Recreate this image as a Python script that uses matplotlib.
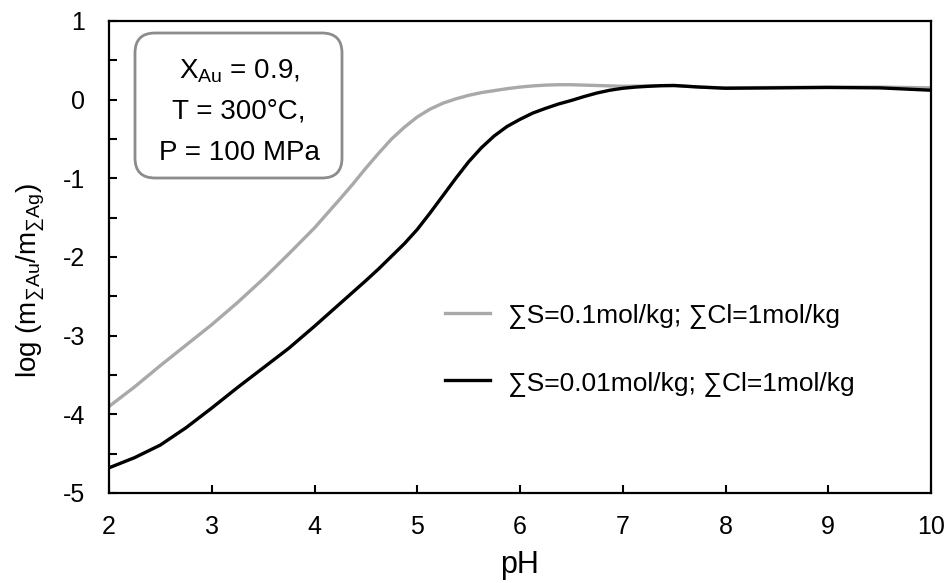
import matplotlib
matplotlib.use("Agg")
import matplotlib.pyplot as plt
from matplotlib.patches import FancyBboxPatch

plt.rcParams['font.family'] = ['Liberation Sans', 'DejaVu Sans']
plt.rcParams['mathtext.fontset'] = 'custom'
plt.rcParams['mathtext.rm'] = 'Liberation Sans'
plt.rcParams['mathtext.it'] = 'Liberation Sans'
plt.rcParams['axes.unicode_minus'] = False

# data
ph_01 = [2.0, 2.25, 2.5, 2.75, 3.0, 3.25, 3.5, 3.75, 4.0, 4.25, 4.375, 4.5, 4.625,
         4.75, 4.875, 5.0, 5.125, 5.25, 5.375, 5.5, 5.625, 5.75, 5.875, 6.0, 6.125,
         6.25, 6.375, 6.5, 6.625, 6.75, 6.875, 7.0, 7.25, 7.5, 7.75, 8.0, 8.5, 9.0,
         9.5, 10.0]
s01 = [-3.90, -3.65, -3.38, -3.12, -2.86, -2.58, -2.28, -1.96, -1.63, -1.26, -1.07,
       -0.87, -0.68, -0.50, -0.35, -0.22, -0.12, -0.045, 0.01, 0.055, 0.09, 0.115, 0.14,
       0.16, 0.175, 0.185, 0.19, 0.19, 0.185, 0.18, 0.175, 0.17, 0.175, 0.18, 0.16,
       0.15, 0.155, 0.16, 0.16, 0.15]
ph_001 = [2.0, 2.25, 2.5, 2.75, 3.0, 3.25, 3.5, 3.75, 4.0, 4.25, 4.5, 4.625, 4.75,
          4.875, 5.0, 5.125, 5.25, 5.375, 5.5, 5.625, 5.75, 5.875, 6.0, 6.125, 6.25,
          6.375, 6.5, 6.625, 6.75, 6.875, 7.0, 7.125, 7.25, 7.375, 7.5, 7.75, 8.0,
          8.5, 9.0, 9.5, 10.0]
s001 = [-4.68, -4.55, -4.39, -4.17, -3.92, -3.66, -3.41, -3.16, -2.88, -2.59, -2.30,
        -2.15, -1.99, -1.83, -1.65, -1.44, -1.22, -1.00, -0.79, -0.61, -0.46, -0.34,
        -0.25, -0.17, -0.11, -0.055, -0.01, 0.04, 0.085, 0.12, 0.145, 0.16, 0.17,
        0.178, 0.18, 0.16, 0.145, 0.15, 0.155, 0.15, 0.12]
labels = ['∑S=0.1mol/kg; ∑Cl=1mol/kg', '∑S=0.01mol/kg; ∑Cl=1mol/kg']
xticks = [2, 3, 4, 5, 6, 7, 8, 9, 10]
yticks = [1, 0, -1, -2, -3, -4, -5]
box_lines = [r'X$_{\mathrm{Au}}$ = 0.9,', 'T = 300°C,', 'P = 100 MPa']

W, H = 949, 583
fig = plt.figure(figsize=(W / 100, H / 100), dpi=100)
ax = fig.add_axes([109 / W, 1 - 493 / H, (931 - 109) / W, (493 - 21) / H])

ax.plot(ph_01, s01, color='#a9a9a9', lw=2.4, label=labels[0])
ax.plot(ph_001, s001, color='black', lw=2.4, label=labels[1])

ax.set_xlim(2, 10)
ax.set_ylim(-5, 1)
ax.set_xticks(xticks)
ax.set_yticks(yticks)
ax.set_yticks([v + 0.5 for v in yticks[1:]], minor=True)
ax.tick_params(axis='both', which='both', direction='in', length=6, width=1.5,
               labelsize=18)
ax.tick_params(axis='y', pad=17)
ax.tick_params(axis='x', pad=16)
for s in ax.spines.values():
    s.set_linewidth(1.6)

ax.set_xlabel('pH', fontsize=22, labelpad=8)
ax.set_ylabel(r'log (m$_{\mathrm{∑Au}}$/m$_{\mathrm{∑Ag}}$)', fontsize=20)
ax.yaxis.set_label_coords(-0.076, 0.449)

leg = ax.legend(loc='upper left', bbox_to_anchor=(445 / W, 1 - 303 / H),
                bbox_transform=fig.transFigure, frameon=False, borderpad=0,
                borderaxespad=0, fontsize=19, handlelength=1.7, handletextpad=0.68,
                labelspacing=1.62)

# annotation box
box = FancyBboxPatch((135, H - 178), 207, 145, boxstyle='round,pad=0,rounding_size=20',
                     transform=None, facecolor='white', edgecolor='#8c8c8c', lw=2,
                     zorder=5)
fig.patches.append(box)
cx = 239
for yy, txt in zip([71, 112, 153], box_lines):
    fig.text(cx / W, 1 - yy / H, txt, ha='center', va='center', fontsize=20, zorder=6)

fig.savefig('out.png', dpi=100)
